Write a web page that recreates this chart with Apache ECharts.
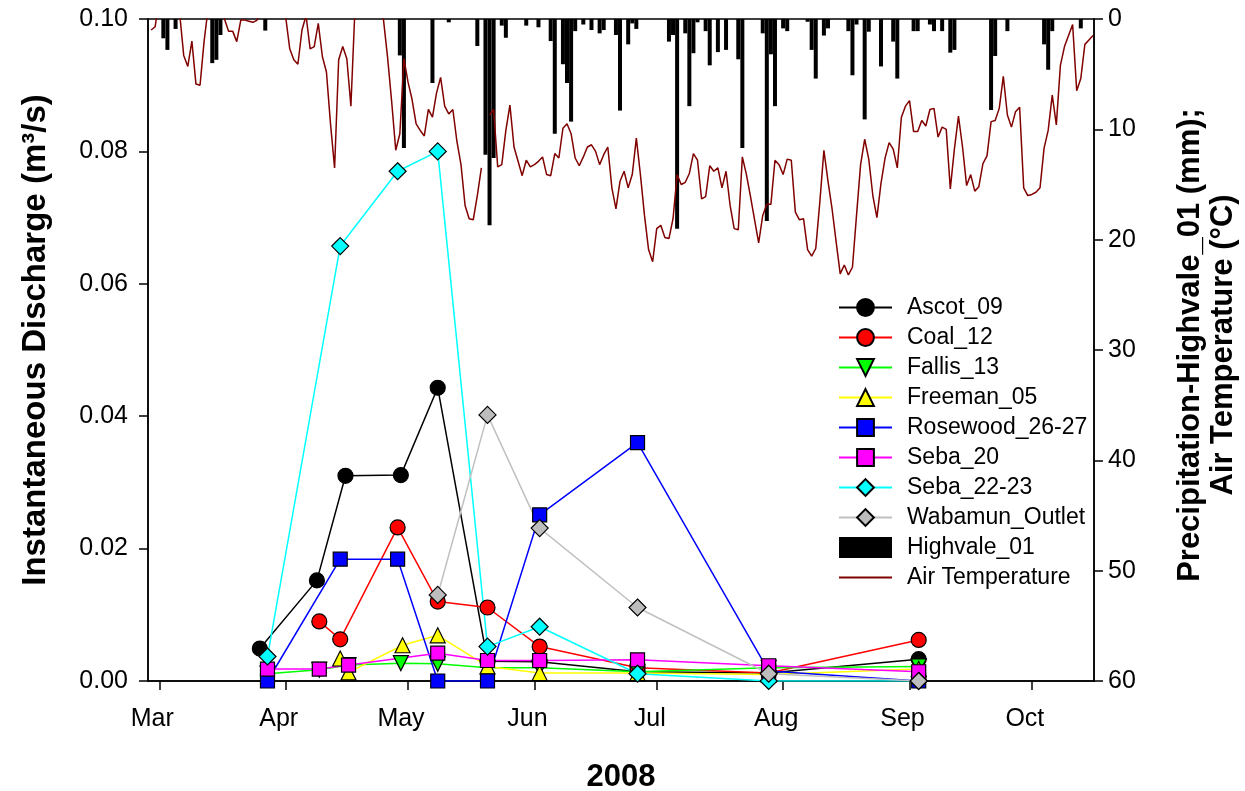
<!DOCTYPE html>
<html>
<head>
<meta charset="utf-8">
<script src="https://cdn.jsdelivr.net/npm/echarts@6/dist/echarts.min.js"></script>
<style>
html,body{margin:0;padding:0;background:#fff;}
#chart{width:1245px;height:791px;}
</style>
</head>
<body>
<div id="chart"></div>
<script>
// ---------- DATA ----------
const monthNames = ['Jan','Feb','Mar','Apr','May','Jun','Jul','Aug','Sep','Oct','Nov','Dec'];

const ascotDates = ['2008-03-25 16:00','2008-04-08 16:00','2008-04-15 16:00','2008-04-29 06:00','2008-05-08 07:00','2008-05-20 12:00','2008-06-02 07:00','2008-06-26 07:00','2008-07-28 11:00','2008-09-03 06:00'];
const ascotQ = [0.0049,0.0152,0.0310,0.0311,0.0443,0.0030,0.0029,0.0014,0.0012,0.0033];

const coalDates = ['2008-04-09 06:00','2008-04-14 09:00','2008-04-28 11:00','2008-05-08 07:00','2008-05-20 12:00','2008-06-02 07:00','2008-06-26 07:00','2008-07-28 11:00','2008-09-03 06:00'];
const coalQ = [0.0090,0.0063,0.0232,0.0120,0.0111,0.0052,0.0020,0.0012,0.0062];

const fallisDates = ['2008-03-27 13:00','2008-04-09 06:00','2008-04-16 10:00','2008-04-29 06:00','2008-05-08 07:00','2008-05-20 12:00','2008-06-02 07:00','2008-06-26 07:00','2008-07-28 11:00','2008-09-03 06:00'];
const fallisQ = [0.0011,0.0017,0.0024,0.0027,0.0026,0.0020,0.0020,0.0014,0.0020,0.0022];

const freemanDates = ['2008-04-14 09:00','2008-04-16 10:00','2008-04-29 16:00','2008-05-08 07:00','2008-05-20 12:00','2008-06-02 07:00','2008-06-26 07:00','2008-07-28 11:00','2008-09-03 06:00'];
const freemanQ = [0.0034,0.0013,0.0054,0.0069,0.0022,0.0012,0.0012,0.0010,0.0018];

const rosewoodDates = ['2008-03-27 13:00','2008-04-14 09:00','2008-04-28 11:00','2008-05-08 07:00','2008-05-20 12:00','2008-06-02 07:00','2008-06-26 07:00','2008-07-28 11:00','2008-09-03 06:00'];
const rosewoodQ = [0.0000,0.0184,0.0184,0.0000,0.0000,0.0251,0.0360,0.0015,0.0000];

const seba20Dates = ['2008-03-27 13:00','2008-04-09 06:00','2008-04-16 10:00','2008-05-08 07:00','2008-05-20 12:00','2008-06-02 07:00','2008-06-26 07:00','2008-07-28 11:00','2008-09-03 06:00'];
const seba20Q = [0.0018,0.0018,0.0024,0.0042,0.0031,0.0031,0.0032,0.0023,0.0014];

const seba2223Dates = ['2008-03-27 13:00','2008-04-14 09:00','2008-04-28 11:00','2008-05-08 07:00','2008-05-20 12:00','2008-06-02 07:00','2008-06-26 07:00','2008-07-28 11:00','2008-09-03 06:00'];
const seba2223Q = [0.0037,0.0657,0.0770,0.0800,0.0052,0.0082,0.0011,0.0000,0.0000];

const wabamunDates = ['2008-05-08 07:00','2008-05-20 12:00','2008-06-02 07:00','2008-06-26 07:00','2008-07-28 11:00','2008-09-03 06:00'];
const wabamunQ = [0.0130,0.0402,0.0231,0.0111,0.0011,0.0000];

// Daily precipitation at Highvale_01 (mm)
const precipDates = ['2008-03-02','2008-03-03','2008-03-05','2008-03-14','2008-03-15','2008-03-16','2008-03-27',
 '2008-04-29','2008-04-30','2008-05-07','2008-05-11','2008-05-18','2008-05-20','2008-05-21','2008-05-22','2008-05-24','2008-05-25','2008-05-30',
 '2008-06-02','2008-06-05','2008-06-06','2008-06-08','2008-06-09','2008-06-10','2008-06-11','2008-06-13','2008-06-15','2008-06-17','2008-06-18','2008-06-21','2008-06-22','2008-06-24','2008-06-25','2008-06-26',
 '2008-07-04','2008-07-05','2008-07-06','2008-07-08','2008-07-09','2008-07-10','2008-07-11','2008-07-13','2008-07-14','2008-07-16','2008-07-18','2008-07-21','2008-07-22','2008-07-27','2008-07-28','2008-07-29','2008-07-30',
 '2008-08-01','2008-08-02','2008-08-07','2008-08-08','2008-08-09','2008-08-11','2008-08-12','2008-08-17','2008-08-18','2008-08-19','2008-08-21','2008-08-22','2008-08-25','2008-08-28','2008-08-29',
 '2008-09-02','2008-09-03','2008-09-06','2008-09-07','2008-09-09','2008-09-11','2008-09-12','2008-09-21','2008-09-22','2008-09-25',
 '2008-10-04','2008-10-05','2008-10-06','2008-10-13'];
const precipMm = [1.75,2.8,0.9,4.0,3.7,1.45,1.05,
 3.3,11.7,5.8,0.3,2.45,12.3,18.7,12.6,0.6,1.7,0.6,
 0.75,2.0,10.4,4.1,5.8,9.3,1.1,0.5,1.0,1.3,1.0,1.45,8.3,2.3,0.4,0.9,
 2.05,1.45,19.0,1.3,7.9,3.1,0.3,1.1,4.2,3.0,2.8,3.65,11.7,1.3,18.3,3.2,7.9,
 0.85,1.1,0.25,2.8,5.4,1.5,0.85,1.1,5.1,0.5,9.1,1.15,4.3,2.05,5.4,
 1.1,1.1,0.5,1.1,1.1,3.05,2.8,8.25,3.35,1.1,
 2.3,4.6,1.1,0.85];

// Daily mean air temperature (deg C), first value is 2008-02-28
const tempStart = [2008, 1, 28];
const tempC = [
 1.0,0.7,
 -2,-3,-4,-3,-1.5,-0.5,3.3,4.3,2.0,5.9,6.0,2.0,-1,-3,-3,-2,0,1.1,1.1,2.05,0.1,0.1,0.2,0.3,0.1,-1,-2,-3,-4,-3,-2,
 -0.2,2.7,3.7,4.1,1.0,-0.3,2.7,2.5,0.4,3.4,4.8,9.5,13.5,3.7,2.5,3.6,7.9,-1,-3,-4,-5,-4,-3,-1.5,0.1,3.5,7.5,11.9,10.4,3.6,
 5.7,7.3,9.5,10.1,10.6,8.2,8.9,6.7,5.3,7.9,8.6,8.2,11.1,13.2,16.9,18.1,18.2,16.0,13.5,null,8.7,8.2,13.4,13.2,10.1,7.8,11.6,12.9,14.2,12.8,13.4,
 13.2,12.9,12.5,14.1,14.2,12.2,12.6,9.9,9.5,10.4,12.6,13.3,12.5,11.6,11.4,12.0,13.2,12.3,11.6,15.3,17.2,14.7,13.8,15.3,14.1,10.8,14.1,17.8,20.9,22.0,
 19.0,18.7,19.8,19.9,18.1,14.1,15.0,14.8,14.0,12.2,12.8,16.3,16.1,13.3,13.8,13.5,15.3,13.8,16.9,19.0,19.1,12.5,14.1,16.1,18.2,20.3,17.8,16.8,16.8,12.8,13.2,
 14.1,12.7,12.8,17.5,18.2,18.1,20.9,21.5,20.8,16.6,11.9,14.7,17.2,20.2,23.1,22.3,23.2,22.5,17.8,13.2,10.9,12.7,16.0,18.0,14.9,12.6,11.2,11.8,13.5,
 8.9,7.9,7.4,10.2,10.2,9.2,9.7,8.2,8.1,10.7,9.8,10.0,15.4,11.8,8.8,11.6,15.1,14.1,15.6,15.2,13.1,12.4,9.3,9.2,8.1,5.2,8.7,9.8,8.4,8.0,
 15.3,16.0,15.9,15.7,15.3,11.7,10.1,6.9,9.6,4.2,2.5,1.5,0.5,6.5,5.4,2.3,1.9,1.5
];

const leftTicks = [0, 0.02, 0.04, 0.06, 0.08, 0.10];
const rightTicks = [0, 10, 20, 30, 40, 50, 60];

// ---------- BUILD ----------
function pairs(d, v){ return d.map((x,i)=>[x, v[i]]); }
const tempData = tempC.map((t,i)=>[new Date(tempStart[0], tempStart[1], tempStart[2]+i).getTime(), t]);
const precipData = pairs(precipDates, precipMm);

const FONT = 'Liberation Sans, Arial, Helvetica, sans-serif';
const xMin = new Date(2008, 1, 27, 17, 30).getTime();
const xMax = new Date(2008, 9, 15, 18, 0).getTime();
const DAY = 86400000;

function qSeries(name, dates, vals, color, symbol, size, rotate){
  return {
    name, type:'line', xAxisIndex:0, yAxisIndex:0,
    data: pairs(dates, vals),
    symbol, symbolSize:size, symbolRotate: rotate||0, showSymbol:true,
    lineStyle:{color, width:1.5},
    itemStyle:{color: color === '#c0c0c0' ? '#bdbdbd' : color, borderColor:'#000', borderWidth:1.2, opacity:1},
    emphasis:{disabled:true}, z:3, animation:false
  };
}

const chart = echarts.init(document.getElementById('chart'), null, {renderer:'canvas'});
const option = {
  animation:false,
  backgroundColor:'#fff',
  textStyle:{fontFamily:FONT, color:'#000'},
  grid:{left:148, right:151, top:19, bottom:110, show:true, borderColor:'#000', borderWidth:1.5,
        backgroundColor:'transparent', containLabel:false, outerBoundsMode:'none'},
  legend:{
    left:838, top:296, orient:'vertical', padding:0,
    itemWidth:53, itemHeight:21, itemGap:7,
    textStyle:{fontFamily:FONT, fontSize:23, color:'#000', padding:[0,0,0,10], lineHeight:23},
    data:[
      {name:'Ascot_09'},{name:'Coal_12'},{name:'Fallis_13'},{name:'Freeman_05'},
      {name:'Rosewood_26-27'},{name:'Seba_20'},{name:'Seba_22-23'},{name:'Wabamun_Outlet'},
      {name:'Highvale_01', icon:'rect'},{name:'Air Temperature', itemStyle:{opacity:0}}
    ],
    selectedMode:false
  },
  xAxis:[{
    type:'time', min:xMin, max:xMax, splitNumber:8,
    minInterval:28*DAY, maxInterval:31*DAY,
    axisLine:{lineStyle:{color:'#000', width:1.5}},
    axisTick:{show:true, inside:false, length:9, lineStyle:{color:'#000', width:1.5}},
    axisLabel:{fontFamily:FONT, fontSize:25, color:'#000', margin:26, padding:[0,14,0,0],
      formatter:(v)=>monthNames[new Date(v).getMonth()]},
    splitLine:{show:false},
    name:'2008', nameLocation:'middle', nameGap:81,
    nameTextStyle:{fontFamily:FONT, fontSize:31, fontWeight:'bold', color:'#000'}
  }],
  yAxis:[{
    type:'value', position:'left', min:leftTicks[0], max:leftTicks[leftTicks.length-1], interval:0.02,
    axisLine:{show:true, lineStyle:{color:'#000', width:1.5}},
    axisTick:{show:true, inside:false, length:9, lineStyle:{color:'#000', width:1.5}},
    axisLabel:{fontFamily:FONT, fontSize:25, color:'#000', margin:20, formatter:(v)=>v.toFixed(2)},
    splitLine:{show:false},
    name:'Instantaneous Discharge (m\u00b3/s)', nameLocation:'middle', nameGap:96, nameRotate:90,
    nameTextStyle:{fontFamily:FONT, fontSize:33, fontWeight:'bold', color:'#000', padding:[0,0,0,20]}
  },{
    type:'value', position:'right', min:rightTicks[0], max:rightTicks[rightTicks.length-1], interval:10, inverse:true,
    axisLine:{show:true, lineStyle:{color:'#000', width:1.5}},
    axisTick:{show:true, inside:false, length:9, lineStyle:{color:'#000', width:1.5}},
    axisLabel:{fontFamily:FONT, fontSize:25, color:'#000', margin:14},
    splitLine:{show:false},
    name:'Precipitation-Highvale_01 (mm);\nAir Temperature (\u00b0C)', nameLocation:'middle', nameGap:80, nameRotate:90,
    nameTextStyle:{fontFamily:FONT, fontSize:31, fontWeight:'bold', color:'#000', lineHeight:33, padding:[0,0,0,10]}
  }],
  series:[
    {name:'Highvale_01', type:'bar', xAxisIndex:0, yAxisIndex:1, data:precipData, barWidth:4,
     itemStyle:{color:'#000'}, z:1, emphasis:{disabled:true}},
    {name:'Air Temperature', type:'line', xAxisIndex:0, yAxisIndex:1, data:tempData, symbol:'none', showSymbol:false,
     connectNulls:false, clip:true, lineStyle:{color:'#800000', width:1.5}, itemStyle:{color:'#800000'}, z:2, emphasis:{disabled:true}},
    qSeries('Ascot_09', ascotDates, ascotQ, '#000000', 'circle', 15),
    qSeries('Coal_12', coalDates, coalQ, '#ff0000', 'circle', 15),
    qSeries('Fallis_13', fallisDates, fallisQ, '#00ff00', 'triangle', 15, 180),
    qSeries('Freeman_05', freemanDates, freemanQ, '#ffff00', 'triangle', 15),
    qSeries('Rosewood_26-27', rosewoodDates, rosewoodQ, '#0000ff', 'rect', 14),
    qSeries('Seba_20', seba20Dates, seba20Q, '#ff00ff', 'rect', 14),
    qSeries('Seba_22-23', seba2223Dates, seba2223Q, '#00ffff', 'diamond', 17),
    qSeries('Wabamun_Outlet', wabamunDates, wabamunQ, '#c0c0c0', 'diamond', 17)
  ]
};
chart.setOption(option);
</script>
</body>
</html>
